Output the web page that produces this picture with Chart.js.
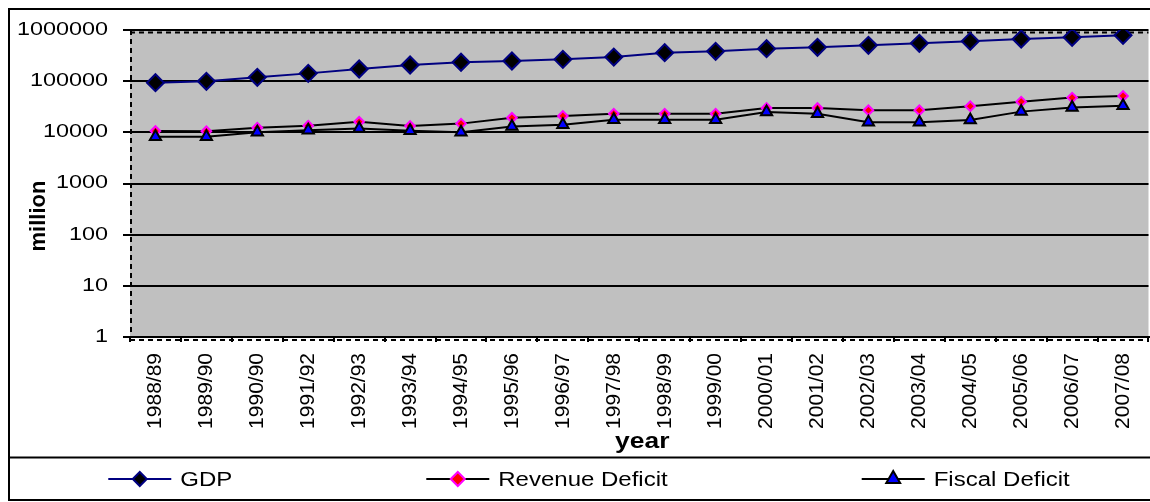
<!DOCTYPE html>
<html>
<head>
<meta charset="utf-8">
<script src="https://cdn.jsdelivr.net/npm/chart.js@4/dist/chart.umd.min.js"></script>
<style>
  html, body { margin: 0; padding: 0; background: #fff; overflow: hidden; }
  canvas { display: block; }
</style>
</head>
<body>
<!-- the plot runs on past the right edge of the window, so the canvas is a little wider -->
<canvas id="chart" width="1159" height="502"></canvas>
<script>
// Fiscal years on the category axis
const years = ['1988/89', '1989/90', '1990/90', '1991/92', '1992/93', '1993/94', '1994/95',
  '1995/96', '1996/97', '1997/98', '1998/99', '1999/00', '2000/01', '2001/02', '2002/03',
  '2003/04', '2004/05', '2005/06', '2006/07', '2007/08'];

// Values in million
const gdp = [93300, 99400, 119000, 142000, 173000, 207000, 234000, 248000, 267000, 296000,
  360000, 383000, 431000, 459000, 502000, 549000, 601000, 667000, 720000, 787000];
const revenueDeficit = [10600, 10500, 12300, 13500, 16100, 13300, 14800, 19300, 20900, 23200,
  23200, 23200, 29900, 29900, 27000, 27000, 32300, 39800, 47700, 51500];
const fiscalDeficit = [8200, 8200, 10000, 11000, 11900, 10700, 10000, 13000, 14000, 17700,
  17700, 17700, 25000, 23000, 15800, 15800, 17400, 25400, 30600, 33000];

// Decades shown on the logarithmic axis
const yTickValues = [1, 10, 100, 1000, 10000, 100000, 1000000];

const seriesNames = ['GDP', 'Revenue Deficit', 'Fiscal Deficit'];
const xTitle = 'year';
const yTitle = 'million';

const FONT = '"Liberation Sans", Arial, Helvetica, sans-serif';
const WIDE = 1.2;        // horizontal stretch of the legend and title lettering
const WIDE_TICKS = 1.3;  // horizontal stretch of the value-axis numbers
const VIEW_WIDTH = 1150; // visible width of the page

// Marker outline for the legend samples
function markerPath(ctx, style, r, x, y) {
  ctx.beginPath();
  if (style === 'triangle') {
    for (let i = 0; i < 3; i++) {
      const t = -Math.PI / 2 + i * 2 * Math.PI / 3;
      const px = x + Math.cos(t) * r, py = y + Math.sin(t) * r;
      if (i === 0) ctx.moveTo(px, py); else ctx.lineTo(px, py);
    }
  } else {
    ctx.moveTo(x - r, y);
    ctx.lineTo(x, y - r);
    ctx.lineTo(x + r, y);
    ctx.lineTo(x, y + r);
  }
  ctx.closePath();
}

// Text drawn with a horizontal stretch about its anchor point
function wideText(ctx, text, x, y, sx) {
  ctx.save();
  ctx.translate(x, y);
  ctx.scale(sx, 1);
  ctx.fillText(text, 0, 0);
  ctx.restore();
}

const framePlugin = {
  id: 'frame',
  beforeDraw(chart) {
    const { ctx, chartArea: a } = chart;
    // value-axis numbers are right aligned on one anchor, so stretch them about it
    const ys = chart.scales.y;
    if (ys && !ys._wideLabels) {
      const orig = ys.drawLabels;
      ys.drawLabels = function (area) {
        const c = this.ctx;
        const anchor = this.right - this.options.grid.tickLength - this.options.ticks.padding;
        c.save();
        c.translate(anchor, 0);
        c.scale(WIDE_TICKS, 1);
        c.translate(-anchor, 0);
        orig.call(this, area);
        c.restore();
      };
      ys._wideLabels = true;
    }
    ctx.save();
    ctx.fillStyle = '#ffffff';
    ctx.fillRect(0, 0, chart.width, chart.height);
    ctx.fillStyle = '#c0c0c0';
    ctx.fillRect(a.left, a.top, a.right - a.left, a.bottom - a.top);
    ctx.restore();
  },
  beforeDatasetsDraw(chart) {
    const { ctx, chartArea: a } = chart;
    ctx.save();
    // dashed plot-area border
    ctx.strokeStyle = '#000';
    ctx.lineWidth = 2;
    ctx.setLineDash([5, 4]);
    ctx.beginPath();
    ctx.moveTo(a.left, a.top + 2.5);
    ctx.lineTo(a.right, a.top + 2.5);
    ctx.moveTo(a.left, a.bottom + 3);
    ctx.lineTo(a.right, a.bottom + 3);
    ctx.moveTo(a.left + 1, a.top);
    ctx.lineTo(a.left + 1, a.bottom);
    ctx.stroke();
    ctx.restore();
  },
  afterDraw(chart) {
    const { ctx, chartArea: a } = chart;
    ctx.save();
    // outer chart frame and legend separator
    ctx.setLineDash([]);
    ctx.strokeStyle = '#000';
    ctx.lineWidth = 2;
    ctx.strokeRect(9, 9, chart.width + 20, 491);
    ctx.beginPath();
    ctx.moveTo(9, 457.5);
    ctx.lineTo(chart.width, 457.5);
    ctx.stroke();

    // axis titles
    ctx.fillStyle = '#000';
    ctx.font = 'bold 22px ' + FONT;
    ctx.textAlign = 'center';
    ctx.textBaseline = 'alphabetic';
    wideText(ctx, xTitle, (a.left + a.right) / 2 + 3, 448, WIDE);
    ctx.save();
    ctx.translate(45, 216);
    ctx.rotate(-Math.PI / 2);
    ctx.fillText(yTitle, 0, 0);
    ctx.restore();

    // legend: line sample with marker, then the series name, spread over the visible width
    ctx.font = '20px ' + FONT;
    ctx.textAlign = 'left';
    ctx.textBaseline = 'middle';
    const legendY = 479;
    const sampleLen = 63;
    const textGap = 9;
    const itemGap = 194;
    const widths = chart.data.datasets.map(ds =>
      sampleLen + textGap + ctx.measureText(ds.label).width * WIDE);
    const total = widths.reduce((s, w) => s + w, 0) + itemGap * (widths.length - 1);
    let x = (VIEW_WIDTH + 28) / 2 - total / 2;
    chart.data.datasets.forEach((ds, i) => {
      ctx.strokeStyle = ds.borderColor;
      ctx.lineWidth = 2;
      ctx.beginPath();
      ctx.moveTo(x, legendY);
      ctx.lineTo(x + sampleLen, legendY);
      ctx.stroke();
      markerPath(ctx, ds.pointStyle, ds.legendMarkerRadius, x + sampleLen / 2, legendY);
      ctx.fillStyle = ds.pointBackgroundColor;
      ctx.fill();
      ctx.strokeStyle = ds.pointBorderColor;
      ctx.lineWidth = ds.pointBorderWidth;
      ctx.stroke();
      ctx.fillStyle = '#000';
      wideText(ctx, ds.label, x + sampleLen + textGap, legendY + 1, WIDE);
      x += widths[i] + itemGap;
    });
    ctx.restore();
  }
};

new Chart(document.getElementById('chart'), {
  type: 'line',
  data: {
    labels: years,
    datasets: [
      {
        label: seriesNames[0],
        data: gdp,
        borderColor: '#000080',
        borderWidth: 2,
        pointStyle: 'rectRot',
        pointRadius: 8.5,
        pointBackgroundColor: '#000000',
        pointBorderColor: '#000080',
        pointBorderWidth: 2,
        legendMarkerRadius: 7,
        tension: 0,
        order: 2
      },
      {
        label: seriesNames[1],
        data: revenueDeficit,
        borderColor: '#000000',
        borderWidth: 2,
        pointStyle: 'rectRot',
        pointRadius: 4.8,
        pointBackgroundColor: '#ff0000',
        pointBorderColor: '#ff00ff',
        pointBorderWidth: 2,
        legendMarkerRadius: 7,
        tension: 0,
        order: 1
      },
      {
        label: seriesNames[2],
        data: fiscalDeficit,
        borderColor: '#000000',
        borderWidth: 2,
        pointStyle: 'triangle',
        pointRadius: 6.5,
        pointBackgroundColor: '#0000ff',
        pointBorderColor: '#000000',
        pointBorderWidth: 2,
        legendMarkerRadius: 8,
        tension: 0,
        order: 0
      }
    ]
  },
  options: {
    responsive: false,
    animation: false,
    devicePixelRatio: 1,
    layout: { padding: { top: 30, left: 0, right: -4, bottom: 45 } },
    plugins: {
      legend: { display: false },
      tooltip: { enabled: false },
      title: { display: false }
    },
    scales: {
      x: {
        type: 'category',
        offset: true,
        grid: {
          display: true,
          offset: true,
          drawOnChartArea: false,
          drawTicks: true,
          tickLength: 5,
          color: '#000',
          lineWidth: 2
        },
        border: { display: true, color: '#000', width: 2 },
        ticks: {
          autoSkip: false,
          minRotation: 90,
          maxRotation: 90,
          padding: 11,
          color: '#000',
          font: { family: FONT, size: 21 }
        },
        afterFit(scale) {
          scale.height = 120;
          scale.paddingLeft = 0;
          scale.paddingRight = -4;
        }
      },
      y: {
        type: 'logarithmic',
        min: 1,
        max: 1000000,
        afterBuildTicks(scale) {
          scale.ticks = yTickValues.map(v => ({ value: v }));
        },
        grid: {
          color: '#000',
          lineWidth: 2,
          drawTicks: true,
          tickLength: 7
        },
        border: { display: false },
        ticks: {
          padding: 15,
          color: '#000',
          font: { family: FONT, size: 18 },
          callback: v => String(v)
        },
        afterFit(scale) {
          scale.width = 130;
          scale.paddingRight = -4;
        }
      }
    }
  },
  plugins: [framePlugin]
});
</script>
</body>
</html>
